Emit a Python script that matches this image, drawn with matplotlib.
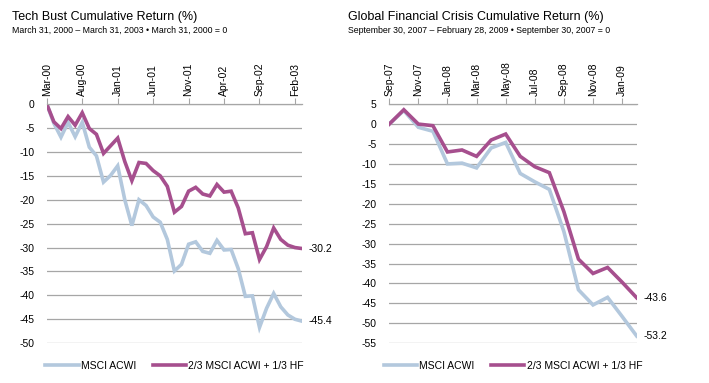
import matplotlib
matplotlib.use("Agg")
import matplotlib.pyplot as plt
import numpy as np

plt.rcParams['font.family'] = ['Liberation Sans', 'DejaVu Sans']
plt.rcParams['axes.unicode_minus'] = False

BLUE = '#b3c8dd'
PURPLE = '#a64f8e'
GRID = '#a6a6a6'

# ---- Tech bust: monthly, Mar-00 .. Mar-03 ----
tech_ticks = ['Mar-00', 'Aug-00', 'Jan-01', 'Jun-01', 'Nov-01', 'Apr-02', 'Sep-02', 'Feb-03']
tech_acwi = [0, -4.0, -6.9, -3.8, -6.8, -3.8, -9.0, -10.8, -16.3, -14.9, -12.9,
             -20.0, -25.4, -20.0, -21.2, -23.6, -24.7, -28.3, -34.9, -33.5, -29.3,
             -28.8, -30.8, -31.2, -28.5, -30.5, -30.4, -34.4, -40.2, -40.1, -46.7,
             -42.7, -39.6, -42.4, -44.1, -45.0, -45.4]
tech_blend = [0, -3.7, -5.1, -2.6, -4.4, -1.8, -5.1, -6.3, -10.3, -8.7, -7.1,
              -12.0, -16.0, -12.2, -12.4, -13.9, -15.0, -17.2, -22.6, -21.4, -18.2,
              -17.4, -18.8, -19.2, -16.8, -18.4, -18.2, -21.7, -27.1, -26.9, -32.5,
              -29.8, -25.9, -28.3, -29.5, -30.0, -30.2]

# ---- GFC: monthly, Sep-07 .. Feb-09 ----
gfc_ticks = ['Sep-07', 'Nov-07', 'Jan-08', 'Mar-08', 'May-08', 'Jul-08', 'Sep-08', 'Nov-08', 'Jan-09']
gfc_acwi = [0, 3.4, -0.8, -1.8, -10.0, -9.8, -11.0, -6.0, -4.6, -12.4, -14.5,
            -16.4, -27.0, -41.6, -45.4, -43.5, -48.3, -53.2]
gfc_blend = [0, 3.6, 0.0, -0.4, -7.0, -6.5, -8.1, -4.0, -2.5, -8.1, -10.7,
             -12.2, -22.0, -33.9, -37.5, -36.0, -39.7, -43.6]

labels = ['MSCI ACWI', '2/3 MSCI ACWI + 1/3 HF']

fig = plt.figure(figsize=(7.09, 3.83), dpi=100)


def draw_panel(rect, acwi, blend, ticklabels, step, ylims, title, subtitle, tx):
    ax = fig.add_axes(rect)
    x = np.arange(len(acwi))
    ax.plot(x, acwi, color=BLUE, lw=2.6, solid_joinstyle='miter', label=labels[0])
    ax.plot(x, blend, color=PURPLE, lw=2.6, solid_joinstyle='miter', label=labels[1])
    ax.set_xlim(0, len(acwi) - 1)
    ax.set_ylim(ylims[1], ylims[0])
    ax.set_yticks(np.arange(ylims[1], ylims[0] + 1, 5))
    ax.yaxis.grid(True, color=GRID, lw=0.9)
    ax.set_axisbelow(True)
    for s in ['left', 'right', 'bottom']:
        ax.spines[s].set_visible(False)
    ax.spines['top'].set_color(GRID)
    ax.spines['top'].set_linewidth(0.9)
    ax.xaxis.tick_top()
    ax.set_xticks(np.arange(0, len(acwi), step))
    ax.set_xticklabels(ticklabels, rotation=90, fontsize=7.5)
    ax.tick_params(axis='x', direction='out', length=4, color=GRID, pad=2)
    ax.tick_params(axis='y', length=0, pad=9, labelsize=7.5)
    for v in (acwi[-1], blend[-1]):
        ax.annotate('%.1f' % v, (x[-1], v), xytext=(5, 0), textcoords='offset points',
                    va='center', ha='left', fontsize=7.5, annotation_clip=False)
    ax.legend(loc='upper center', bbox_to_anchor=(0.5, -0.035), ncol=2, frameon=False,
              fontsize=7.5, handlelength=3.2, handletextpad=0.2, columnspacing=1.6)
    fig.text(tx, 0.949, title, fontsize=9, ha='left', va='baseline')
    fig.text(tx, 0.915, subtitle, fontsize=6.3, ha='left', va='baseline')
    return ax


draw_panel([0.066, 0.104, 0.360, 0.624], tech_acwi, tech_blend, tech_ticks, 5, (0, -50),
           'Tech Bust Cumulative Return (%)',
           'March 31, 2000 \u2013 March 31, 2003 \u2022 March 31, 2000 = 0', 0.017)
draw_panel([0.549, 0.104, 0.349, 0.624], gfc_acwi, gfc_blend, gfc_ticks, 2, (5, -55),
           'Global Financial Crisis Cumulative Return (%)',
           'September 30, 2007 \u2013 February 28, 2009 \u2022 September 30, 2007 = 0', 0.491)

fig.savefig('out.png', dpi=100)
